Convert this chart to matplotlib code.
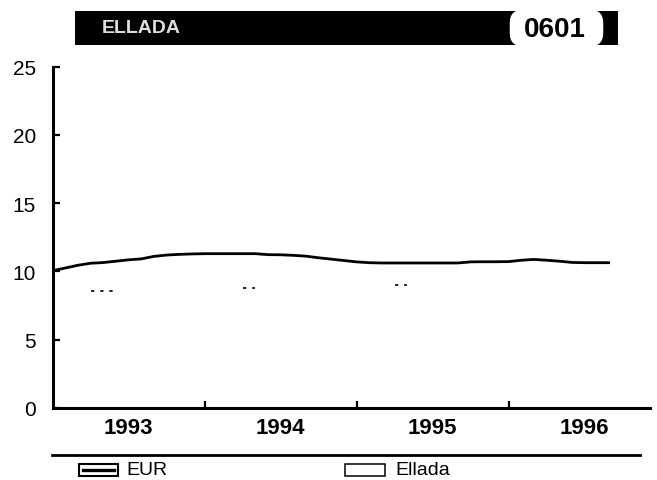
import numpy as np
import matplotlib
matplotlib.use("Agg")
import matplotlib.pyplot as plt
from matplotlib.patches import Rectangle, FancyBboxPatch
from matplotlib.lines import Line2D
import matplotlib.transforms as mtransforms

plt.rcParams['font.family'] = ['Liberation Sans', 'DejaVu Sans']

# ---- data ----
months = list(range(45))  # Jan 1993 .. Sep 1996
eur = [10.05, 10.25, 10.45, 10.60, 10.65, 10.75, 10.85, 10.92, 11.10, 11.20,
       11.25, 11.28, 11.30, 11.30, 11.30, 11.30, 11.30, 11.23, 11.22, 11.18,
       11.12, 11.00, 10.90, 10.80, 10.70, 10.64, 10.62, 10.62, 10.62, 10.62,
       10.62, 10.62, 10.62, 10.70, 10.71, 10.71, 10.72, 10.82, 10.88, 10.82,
       10.75, 10.66, 10.64, 10.64, 10.64]
nan = float('nan')
ellada = [nan] * 45
for m, v in [(3, 8.6), (4, 8.6), (5, 8.6), (15, 8.8), (16, 8.8), (27, 9.0), (28, 9.0)]:
    ellada[m] = v
year_labels = ['1993', '1994', '1995', '1996']
year_centers = [6, 18, 30, 42]
year_bounds = [12, 24, 36]
yticks = [0, 5, 10, 15, 20, 25]
title_text = 'ELLADA'
code_text = '0601'
legend_labels = ['EUR', 'Ellada']

# ---- figure ----
W, H = 657, 481
fig = plt.figure(figsize=(W / 100, H / 100), dpi=100)

def fx(px):
    return px / W

def fy(py):
    return 1 - py / H

x0, x1 = 52.5, 650
y0, y1 = 409, 67.6
ax = fig.add_axes([fx(x0), fy(y0), fx(x1) - fx(x0), fy(y1) - fy(y0)])
ax.plot(months, eur, color='black', lw=2.0, solid_capstyle='butt')
ax.plot(months, ellada, color='black', lw=1.2, dashes=(2.0, 3.5))
ax.set_xlim(0, (x1 - x0) / 12.67)
ax.set_ylim(0, 25)
for s in ['top', 'right']:
    ax.spines[s].set_visible(False)
ax.spines['left'].set_linewidth(2.2)
ax.spines['bottom'].set_linewidth(2.2)
ax.set_yticks(yticks)
ax.set_yticklabels([str(v) for v in yticks], fontsize=15)
ax.tick_params(axis='y', direction='in', length=5, width=1.6, pad=12)
ax.set_xticks(year_bounds)
ax.set_xticklabels([])
ax.tick_params(axis='x', direction='in', length=5, width=1.6)

trans = mtransforms.blended_transform_factory(ax.transData, fig.transFigure)
for c, lab in zip(year_centers, year_labels):
    ax.text(c, fy(429), lab, transform=trans, ha='center', va='center',
            fontsize=16, fontweight='bold', clip_on=False)

# separator line
fig.add_artist(Line2D([fx(52), fx(640)], [fy(456), fy(456)], color='black', lw=2.0))

# legend
fig.add_artist(Rectangle((fx(79), fy(477)), fx(118) - fx(79), fy(465) - fy(477),
                         facecolor='white', edgecolor='black', lw=1.5))
fig.add_artist(Line2D([fx(83), fx(114)], [fy(471), fy(471)], color='black', lw=2.4))
fig.text(fx(126), fy(471), legend_labels[0], ha='left', va='center', fontsize=14)
fig.add_artist(Rectangle((fx(345), fy(477)), fx(385) - fx(345), fy(465) - fy(477),
                         facecolor='white', edgecolor='black', lw=1.1))
fig.text(fx(395), fy(471), legend_labels[1], ha='left', va='center', fontsize=14)

# title bar
fig.add_artist(Rectangle((fx(75), fy(46)), fx(618) - fx(75), fy(12) - fy(46),
                         facecolor='black', edgecolor='none'))
fig.add_artist(FancyBboxPatch((fx(515), fy(42)), fx(598) - fx(515), fy(16) - fy(42),
                              boxstyle='round,pad=0.008,rounding_size=0.02',
                              facecolor='white', edgecolor='none',
                              mutation_aspect=W / H))
fig.text(fx(102), fy(29), title_text, ha='left', va='center', fontsize=14,
         fontweight='bold', color='#dddddd')
fig.text(fx(555), fy(30), code_text, ha='center', va='center', fontsize=20,
         fontweight='bold', color='black')

fig.savefig('out.png', dpi=100)
